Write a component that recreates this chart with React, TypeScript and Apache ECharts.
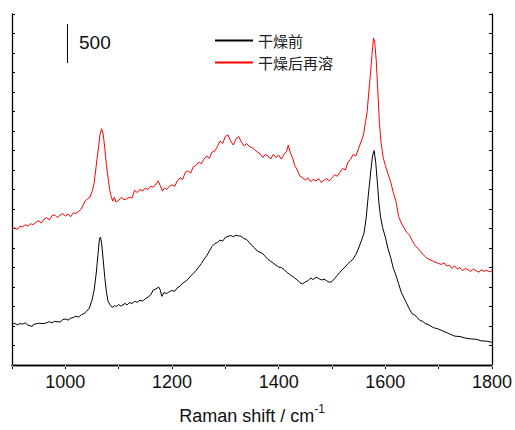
import React, { useEffect, useRef } from "react";
import * as echarts from "echarts";

const xTicks = [900, 1000, 1100, 1200, 1300, 1400, 1500, 1600, 1700, 1800];
const seriesNames = ["干燥前", "干燥后再溶"];

const blackX = [900,905,910,915,920,925,930,938,940,950,960,970,975,980,990,995,1000,1005,1010,1015,1020,1025,1030,1035,1040,1045,1050,1054,1058,1061,1064,1066,1068,1071,1074,1077,1080,1084,1088,1092,1096,1100,1104,1108,1112,1116,1120,1125,1130,1135,1140,1145,1150,1155,1160,1165,1170,1175,1178,1181,1185,1190,1195,1200,1205,1210,1215,1220,1225,1230,1235,1240,1245,1250,1255,1260,1265,1270,1275,1280,1285,1290,1295,1300,1305,1310,1315,1320,1325,1330,1335,1340,1345,1350,1355,1360,1365,1370,1375,1380,1385,1390,1395,1400,1405,1410,1415,1420,1425,1430,1435,1440,1445,1450,1455,1460,1465,1470,1475,1480,1485,1490,1495,1500,1505,1510,1515,1520,1525,1530,1535,1540,1545,1550,1555,1560,1564,1567,1570,1573,1576,1579,1582,1585,1588,1591,1595,1600,1605,1610,1615,1620,1625,1630,1635,1640,1645,1650,1655,1660,1665,1670,1675,1680,1690,1700,1710,1720,1730,1740,1750,1760,1770,1780,1790,1800];
const blackY = [520,535,515,530,525,540,510,495,520,535,530,555,540,560,550,580,590,575,600,610,625,615,645,660,690,730,830,960,1180,1400,1620,1640,1560,1350,1120,940,820,770,740,760,750,775,755,770,790,770,800,790,815,805,830,820,850,870,900,960,975,1000,960,880,930,915,940,955,945,990,1010,1050,1070,1100,1140,1175,1210,1255,1300,1355,1400,1460,1520,1555,1570,1600,1590,1635,1650,1660,1645,1665,1655,1650,1620,1610,1570,1530,1500,1460,1445,1430,1390,1355,1330,1305,1280,1255,1250,1225,1190,1165,1140,1115,1090,1055,1040,1065,1080,1115,1095,1125,1110,1090,1100,1080,1060,1070,1110,1150,1190,1225,1260,1300,1330,1360,1420,1500,1590,1690,1880,2100,2300,2500,2680,2750,2600,2350,2080,1900,1760,1640,1490,1380,1240,1150,1040,930,860,790,720,660,640,610,570,560,530,520,480,460,430,400,370,365,345,335,330,310,305,290];

const redX = [900,905,910,915,920,925,930,935,940,945,950,955,960,965,970,975,980,985,990,995,1000,1005,1010,1015,1020,1025,1030,1034,1038,1042,1046,1050,1054,1058,1062,1065,1068,1071,1074,1077,1080,1083,1086,1089,1092,1095,1100,1105,1110,1115,1120,1125,1130,1135,1140,1145,1150,1155,1160,1165,1170,1174,1178,1182,1186,1190,1195,1200,1205,1210,1215,1220,1225,1230,1235,1240,1245,1250,1255,1260,1265,1270,1275,1280,1285,1290,1295,1300,1305,1310,1315,1320,1325,1330,1335,1340,1345,1350,1355,1360,1365,1370,1375,1380,1385,1390,1395,1400,1405,1410,1415,1418,1422,1426,1430,1435,1440,1445,1450,1455,1460,1465,1470,1475,1480,1485,1490,1495,1500,1505,1510,1515,1520,1525,1530,1535,1540,1545,1550,1555,1559,1563,1566,1569,1572,1575,1578,1580,1583,1586,1589,1592,1596,1600,1605,1610,1615,1620,1625,1630,1635,1640,1645,1650,1655,1660,1665,1670,1675,1680,1690,1700,1705,1710,1715,1720,1725,1730,1735,1740,1745,1750,1755,1760,1765,1770,1775,1780,1785,1790,1795,1800];
const redY = [1740,1760,1735,1780,1770,1800,1780,1810,1800,1830,1850,1820,1870,1890,1860,1915,1925,1890,1920,1940,1910,1935,1900,1950,1945,1970,2000,2060,2110,2130,2150,2220,2330,2560,2780,2950,3030,2960,2780,2570,2410,2250,2160,2100,2150,2090,2110,2150,2120,2130,2150,2140,2240,2210,2250,2230,2270,2250,2290,2280,2320,2360,2300,2230,2270,2250,2290,2310,2290,2360,2400,2380,2470,2490,2460,2540,2560,2600,2580,2640,2680,2650,2730,2740,2800,2870,2840,2930,2950,2870,2820,2900,2930,2860,2810,2840,2800,2790,2760,2730,2710,2660,2700,2680,2640,2700,2660,2690,2640,2700,2740,2820,2720,2660,2560,2500,2420,2400,2370,2400,2350,2380,2360,2390,2340,2370,2390,2360,2400,2440,2420,2470,2520,2500,2600,2640,2700,2680,2780,2870,2950,3120,3250,3500,3720,3980,4190,4150,3900,3500,3100,2850,2660,2560,2450,2350,2210,2100,1900,1820,1760,1700,1670,1600,1540,1500,1470,1420,1390,1360,1330,1300,1290,1310,1270,1280,1240,1270,1230,1250,1210,1240,1220,1200,1230,1210,1190,1220,1200,1215,1195,1205];

const scaleBarX = [1004, 1004];
const scaleBarY = [3870, 4370];
const scaleBarLabel = "500";

export default function App() {
  const ref = useRef<HTMLDivElement>(null);
  useEffect(() => {
    document.body.style.margin = "0";
    const chart = echarts.init(ref.current!, null, { renderer: "svg" });
    const axisFont = "'Liberation Sans', Arial, sans-serif";
    chart.setOption({
      animation: false,
      backgroundColor: "#ffffff",
      grid: { left: 12, right: 23, top: 14, bottom: 61, containLabel: false },
      legend: {
        data: seriesNames,
        orient: "vertical",
        left: 215,
        top: 33,
        padding: 0,
        itemWidth: 38,
        itemHeight: 2,
        itemGap: 7,
        icon: "rect",
        textStyle: { fontFamily: "'Noto Sans CJK SC', sans-serif", fontSize: 15, lineHeight: 15, color: "#222" },
      },
      xAxis: [
        {
          type: "value",
          position: "bottom",
          min: xTicks[0],
          max: xTicks[xTicks.length - 1],
          interval: 100,
          axisLine: { show: true, lineStyle: { color: "#000", width: 1.3 } },
          axisTick: { show: true, inside: false, length: 4, lineStyle: { color: "#000", width: 1 } },
          axisLabel: {
            fontFamily: axisFont,
            fontSize: 18,
            color: "#111",
            margin: 8,
            formatter: (v: number) => (v % 200 === 0 ? String(v) : ""),
          },
          splitLine: { show: false },
          name: "{a|Raman shift / cm}{b|-1}",
          nameLocation: "middle",
          nameGap: 38,
          nameTextStyle: {
            rich: {
              a: { fontFamily: axisFont, fontSize: 18, color: "#111", lineHeight: 22, verticalAlign: "bottom" },
              b: { fontFamily: axisFont, fontSize: 12, color: "#111", lineHeight: 22, verticalAlign: "top", padding: [0, 0, 10, 0] },
            },
          },
        },
        {
          type: "value",
          position: "top",
          min: xTicks[0],
          max: xTicks[xTicks.length - 1],
          interval: 100,
          axisLine: { show: true, lineStyle: { color: "#000", width: 1.3 } },
          axisTick: { show: true, inside: true, length: 2, lineStyle: { color: "#999", width: 1 } },
          axisLabel: { show: false },
          splitLine: { show: false },
        },
      ],
      yAxis: [
        {
          type: "value",
          position: "left",
          min: 0,
          max: 4500,
          interval: 250,
          axisLine: { show: true, lineStyle: { color: "#000", width: 1.3 } },
          axisTick: { show: true, inside: true, length: 3, lineStyle: { color: "#000", width: 1 } },
          axisLabel: { show: false },
          splitLine: { show: false },
        },
        {
          type: "value",
          position: "right",
          min: 0,
          max: 4500,
          interval: 250,
          axisLine: { show: true, lineStyle: { color: "#000", width: 1.3 } },
          axisTick: { show: true, inside: true, length: 3, lineStyle: { color: "#000", width: 1 } },
          axisLabel: { show: false },
          splitLine: { show: false },
        },
      ],
      series: [
        {
          name: seriesNames[0],
          type: "line",
          data: blackX.map((x, i) => [x, blackY[i]]),
          showSymbol: false,
          symbol: "none",
          lineStyle: { color: "#000000", width: 1 },
          itemStyle: { color: "#000000" },
        },
        {
          name: seriesNames[1],
          type: "line",
          data: redX.map((x, i) => [x, redY[i]]),
          showSymbol: false,
          symbol: "none",
          lineStyle: { color: "#ff0000", width: 1 },
          itemStyle: { color: "#ff0000" },
        },
        {
          name: "scale",
          type: "line",
          data: scaleBarX.map((x, i) => [x, scaleBarY[i]]),
          showSymbol: false,
          symbol: "none",
          lineStyle: { color: "#000000", width: 1 },
          silent: true,
        },
      ],
      graphic: [
        {
          type: "text",
          left: 79,
          top: 33,
          style: { text: scaleBarLabel, fontFamily: axisFont, fontSize: 19, fill: "#111" },
        },
      ],
    });
    return () => chart.dispose();
  }, []);
  return <div ref={ref} style={{ width: 515, height: 430 }} />;
}
